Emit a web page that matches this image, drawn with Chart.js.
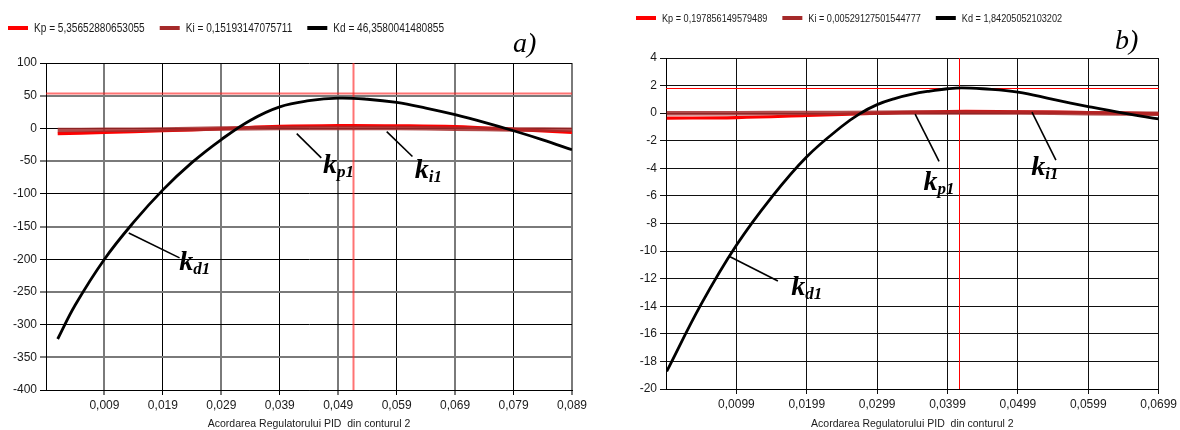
<!DOCTYPE html>
<html><head><meta charset="utf-8">
<script src="https://cdn.jsdelivr.net/npm/chart.js@4.4.1/dist/chart.umd.min.js"></script>
<style>
html,body{margin:0;padding:0;background:#fff;}
#wrap{position:relative;width:1180px;height:430px;overflow:hidden;}
.box{position:absolute;top:0;width:590px;height:430px;}
</style></head><body>
<div id="wrap">
  <div class="box" style="left:0"><canvas id="cA" width="590" height="430"></canvas></div>
  <div class="box" style="left:590px"><canvas id="cB" width="590" height="430"></canvas></div>
</div>
<script>
// ---------- Chart a) data ----------
const legendA = ['Kp = 5,35652880653055', 'Ki = 0,15193147075711', 'Kd = 46,3580041480855'];
const xTickValsA = [0.009, 0.019, 0.029, 0.039, 0.049, 0.059, 0.069, 0.079, 0.089];
const xTickLabelsA = ['0,009', '0,019', '0,029', '0,039', '0,049', '0,059', '0,069', '0,079', '0,089'];
const yTickValsA = [-400, -350, -300, -250, -200, -150, -100, -50, 0, 50, 100];
const kdXA = [0.001, 0.004, 0.009, 0.014, 0.019, 0.024, 0.029, 0.034, 0.039, 0.044, 0.049, 0.054, 0.059, 0.064, 0.069, 0.074, 0.079, 0.084, 0.089];
const kdA  = [-322, -270, -200, -143.4, -94, -52, -17, 12.6, 33, 42.3, 46.3, 44.6, 39.7, 31, 20.9, 9.25, -3.6, -17.55, -32.7];
const kpXA = [0.001, 0.009, 0.019, 0.029, 0.039, 0.049, 0.059, 0.069, 0.079, 0.089];
const kpA  = [-8, -6.2, -3.6, -0.5, 3.0, 4.3, 4.0, 2.6, -1.6, -6];
const kiXA = [0.001, 0.009, 0.019, 0.029, 0.039, 0.049, 0.059, 0.069, 0.079, 0.089];
const kiA  = [-2.4, -2.2, -1.8, -0.3, 0.6, 0.8, 0.5, -0.5, -1.5, -2];
const refXA = [0.0515];
const refYA = [53.6];

// ---------- Chart b) data ----------
const legendB = ['Kp = 0,197856149579489', 'Ki = 0,00529127501544777', 'Kd = 1,84205052103202'];
const xTickValsB = [0.0099, 0.0199, 0.0299, 0.0399, 0.0499, 0.0599, 0.0699];
const xTickLabelsB = ['0,0099', '0,0199', '0,0299', '0,0399', '0,0499', '0,0599', '0,0699'];
const yTickValsB = [-20, -18, -16, -14, -12, -10, -8, -6, -4, -2, 0, 2, 4];
const kdXB = [0, 0.0049, 0.0099, 0.0149, 0.0199, 0.0249, 0.0274, 0.0299, 0.0324, 0.0349, 0.0374, 0.0399, 0.0419, 0.0449, 0.0499, 0.0549, 0.0599, 0.0649, 0.0699];
const kdB  = [-18.73, -13.85, -9.58, -6.1, -3.16, -0.95, -0.05, 0.62, 1.06, 1.38, 1.6, 1.77, 1.84, 1.77, 1.53, 1.0, 0.48, 0.0, -0.41];
const kpXB = [0, 0.0099, 0.0199, 0.0299, 0.0399, 0.0499, 0.0599, 0.0699];
const kpB  = [-0.36, -0.32, -0.17, 0.0, 0.12, 0.1, 0.04, -0.05];
const kiXB = [0, 0.0099, 0.0199, 0.0299, 0.0399, 0.0499, 0.0599, 0.0699];
const kiB  = [0.0, 0.0, 0.01, 0.03, 0.05, 0.04, 0.0, -0.04];
const refXB = [0.04155];
const refYB = [1.84];

const axisTitle = 'Acordarea Regulatorului PID  din conturul 2';

// ---------- helpers ----------
const pts = (xs, ys) => xs.map((x, i) => ({x: x, y: ys[i]}));
const TICK_FONT = {family: '"Liberation Sans", Arial, sans-serif', size: 12};
const SANS = '"Liberation Sans", Arial, sans-serif';

const legendPlugin = {
  id: 'cLegend',
  afterDraw(chart, args, o) {
    const ctx = chart.ctx; ctx.save();
    ctx.font = o.size + 'px ' + SANS; ctx.textBaseline = 'middle'; ctx.textAlign = 'left';
    let x = o.x;
    chart.data.datasets.forEach(ds => {
      if (!ds.label) return;
      ctx.fillStyle = ds.legendColor;
      ctx.fillRect(x, o.y - 2, 20, 4);
      x += 26;
      ctx.fillStyle = '#1a1a1a';
      ctx.save();
      ctx.translate(x, o.y + 0.5);
      ctx.scale(o.sx, 1);
      ctx.fillText(ds.label, 0, 0);
      ctx.restore();
      x += ctx.measureText(ds.label).width * o.sx + 15;
    });
    ctx.restore();
  }
};

const refPlugin = {
  id: 'refLines',
  beforeDatasetsDraw(chart, args, o) {
    const {ctx, chartArea: a, scales: {x, y}} = chart;
    ctx.save();
    ctx.strokeStyle = o.color; ctx.lineWidth = o.width;
    o.xs.forEach(v => { const px = Math.round(x.getPixelForValue(v)) + 0.5; ctx.beginPath(); ctx.moveTo(px, a.top); ctx.lineTo(px, a.bottom); ctx.stroke(); });
    o.ys.forEach(v => { const py = Math.round(y.getPixelForValue(v)) + 0.5; ctx.beginPath(); ctx.moveTo(a.left, py); ctx.lineTo(a.right, py); ctx.stroke(); });
    ctx.restore();
  }
};

const notePlugin = {
  id: 'notes',
  afterDatasetsDraw(chart, args, o) {
    const {ctx, scales: {x, y}} = chart;
    ctx.save();
    o.items.forEach(n => {
      ctx.strokeStyle = '#000'; ctx.lineWidth = 1.6;
      ctx.beginPath();
      ctx.moveTo(x.getPixelForValue(n.from[0]), y.getPixelForValue(n.from[1]));
      ctx.lineTo(x.getPixelForValue(n.to[0]), y.getPixelForValue(n.to[1]));
      ctx.stroke();
      const lx = x.getPixelForValue(n.at[0]), ly = y.getPixelForValue(n.at[1]);
      ctx.fillStyle = '#000'; ctx.textBaseline = 'alphabetic'; ctx.textAlign = 'left';
      ctx.font = 'italic bold 28px "Liberation Serif", "Times New Roman", serif';
      ctx.fillText('k', lx, ly);
      const w = ctx.measureText('k').width;
      ctx.font = 'italic bold 17px "Liberation Serif", "Times New Roman", serif';
      ctx.fillText(n.sub, lx + w, ly + 4);
    });
    ctx.restore();
  }
};

const cornerPlugin = {
  id: 'corner',
  afterDraw(chart, args, o) {
    const ctx = chart.ctx; ctx.save();
    ctx.font = 'italic 28px "Liberation Serif", "Times New Roman", serif';
    ctx.fillStyle = '#000'; ctx.textBaseline = 'alphabetic'; ctx.textAlign = 'left';
    ctx.fillText(o.text, o.x, o.y);
    ctx.restore();
  }
};

function build(canvasId, p) {
  const gridColor = p.alt ? (c => (c.index % 2 === 0 ? '#7a7a7a' : '#000')) : (() => '#111');
  const gridWidth = p.alt ? (c => (c.index % 2 === 0 ? 2 : 1)) : (() => 1);
  const yGridColor = p.alt ? (c => (c.index % 2 === 1 ? '#7a7a7a' : '#000')) : (() => '#111');
  const yGridWidth = p.alt ? (c => (c.index % 2 === 1 ? 2 : 1)) : (() => 1);
  return new Chart(document.getElementById(canvasId), {
    type: 'line',
    data: {
      datasets: [
        {label: p.legend[0], data: pts(p.kpX, p.kp), borderColor: '#ff0000', legendColor: '#ff0000', borderWidth: 3.2, order: 2},
        {label: p.legend[1], data: pts(p.kiX, p.ki), borderColor: 'rgba(165,42,42,0.85)', legendColor: '#a52a2a', borderWidth: 4.5, order: 1},
        {label: p.legend[2], data: pts(p.kdX, p.kd), borderColor: '#000000', legendColor: '#000000', borderWidth: 2.8, order: 0}
      ]
    },
    options: {
      responsive: false, animation: false,
      layout: {padding: p.pad},
      elements: {point: {radius: 0}, line: {tension: 0.4, cubicInterpolationMode: 'default', fill: false, capBezierPoints: true}},
      plugins: {
        legend: {display: false}, tooltip: {enabled: false},
        cLegend: {x: p.legX, y: p.legY, size: p.legSize, sx: p.legSx},
        refLines: {xs: p.refX, ys: p.refY, color: p.refColor, width: p.refWidth},
        notes: {items: p.notes},
        corner: p.corner
      },
      scales: {
        x: {
          type: 'linear', min: p.xMin, max: p.xMax,
          afterBuildTicks: s => { s.ticks = p.xTicks.map(v => ({value: v})); },
          afterFit: s => { s.height = p.xH; },
          ticks: {autoSkip: false, maxRotation: 0, minRotation: 0, padding: 3, color: '#1a1a1a', font: TICK_FONT,
                  callback: (v, i) => p.xLabels[i]},
          grid: {color: gridColor, lineWidth: gridWidth, tickLength: 5, tickColor: gridColor, tickWidth: gridWidth},
          border: {display: true, color: '#000', width: 1},
          title: {display: true, text: axisTitle, color: '#1a1a1a', font: {family: SANS, size: 10.5}, padding: {top: 0, bottom: 0}}
        },
        y: {
          type: 'linear', min: p.yMin, max: p.yMax,
          afterBuildTicks: s => { s.ticks = p.yTicks.map(v => ({value: v})); },
          afterFit: s => { s.width = p.yW; },
          ticks: {padding: 3, color: '#1a1a1a', font: TICK_FONT, callback: v => String(v)},
          grid: {color: yGridColor, lineWidth: yGridWidth, tickLength: 6, tickColor: yGridColor, tickWidth: yGridWidth},
          border: {display: true, color: '#000', width: 1}
        }
      }
    },
    plugins: [refPlugin, notePlugin, legendPlugin, cornerPlugin]
  });
}

build('cA', {
  legend: legendA, kpX: kpXA, kp: kpA, kiX: kiXA, ki: kiA, kdX: kdXA, kd: kdA,
  xMin: -0.001, xMax: 0.089, yMin: -400, yMax: 100,
  xTicks: xTickValsA, xLabels: xTickLabelsA, yTicks: yTickValsA,
  refX: refXA, refY: refYA, refColor: 'rgba(255,40,40,0.65)', refWidth: 2,
  alt: true,
  pad: {top: 63, left: 0, right: 18, bottom: 0}, xH: 40, yW: 46,
  legX: 8, legY: 28, legSize: 12, legSx: 0.84,
  corner: {text: 'a)', x: 513, y: 52},
  notes: [
    {from: [0.0419, -8], to: [0.0461, -45], at: [0.0464, -68], sub: 'p1'},
    {from: [0.0573, -5], to: [0.0617, -43], at: [0.0621, -76], sub: 'i1'},
    {from: [0.01316, -160], to: [0.02185, -198], at: [0.0218, -217], sub: 'd1'}
  ]
});

build('cB', {
  legend: legendB, kpX: kpXB, kp: kpB, kiX: kiXB, ki: kiB, kdX: kdXB, kd: kdB,
  xMin: -0.0001, xMax: 0.0699, yMin: -20, yMax: 4,
  xTicks: xTickValsB, xLabels: xTickLabelsB, yTicks: yTickValsB,
  refX: refXB, refY: refYB, refColor: '#ff0000', refWidth: 1,
  alt: false,
  pad: {top: 58, left: 0, right: 19, bottom: 0}, xH: 41, yW: 76,
  legX: 46, legY: 18, legSize: 11, legSx: 0.83,
  corner: {text: 'b)', x: 525, y: 49},
  notes: [
    {from: [0.0353, -0.07], to: [0.0387, -3.5], at: [0.0365, -5.6], sub: 'p1'},
    {from: [0.0519, 0.07], to: [0.0553, -3.4], at: [0.0518, -4.5], sub: 'i1'},
    {from: [0.0090, -10.41], to: [0.0158, -12.17], at: [0.0177, -13.2], sub: 'd1'}
  ]
});
</script>
</body></html>
